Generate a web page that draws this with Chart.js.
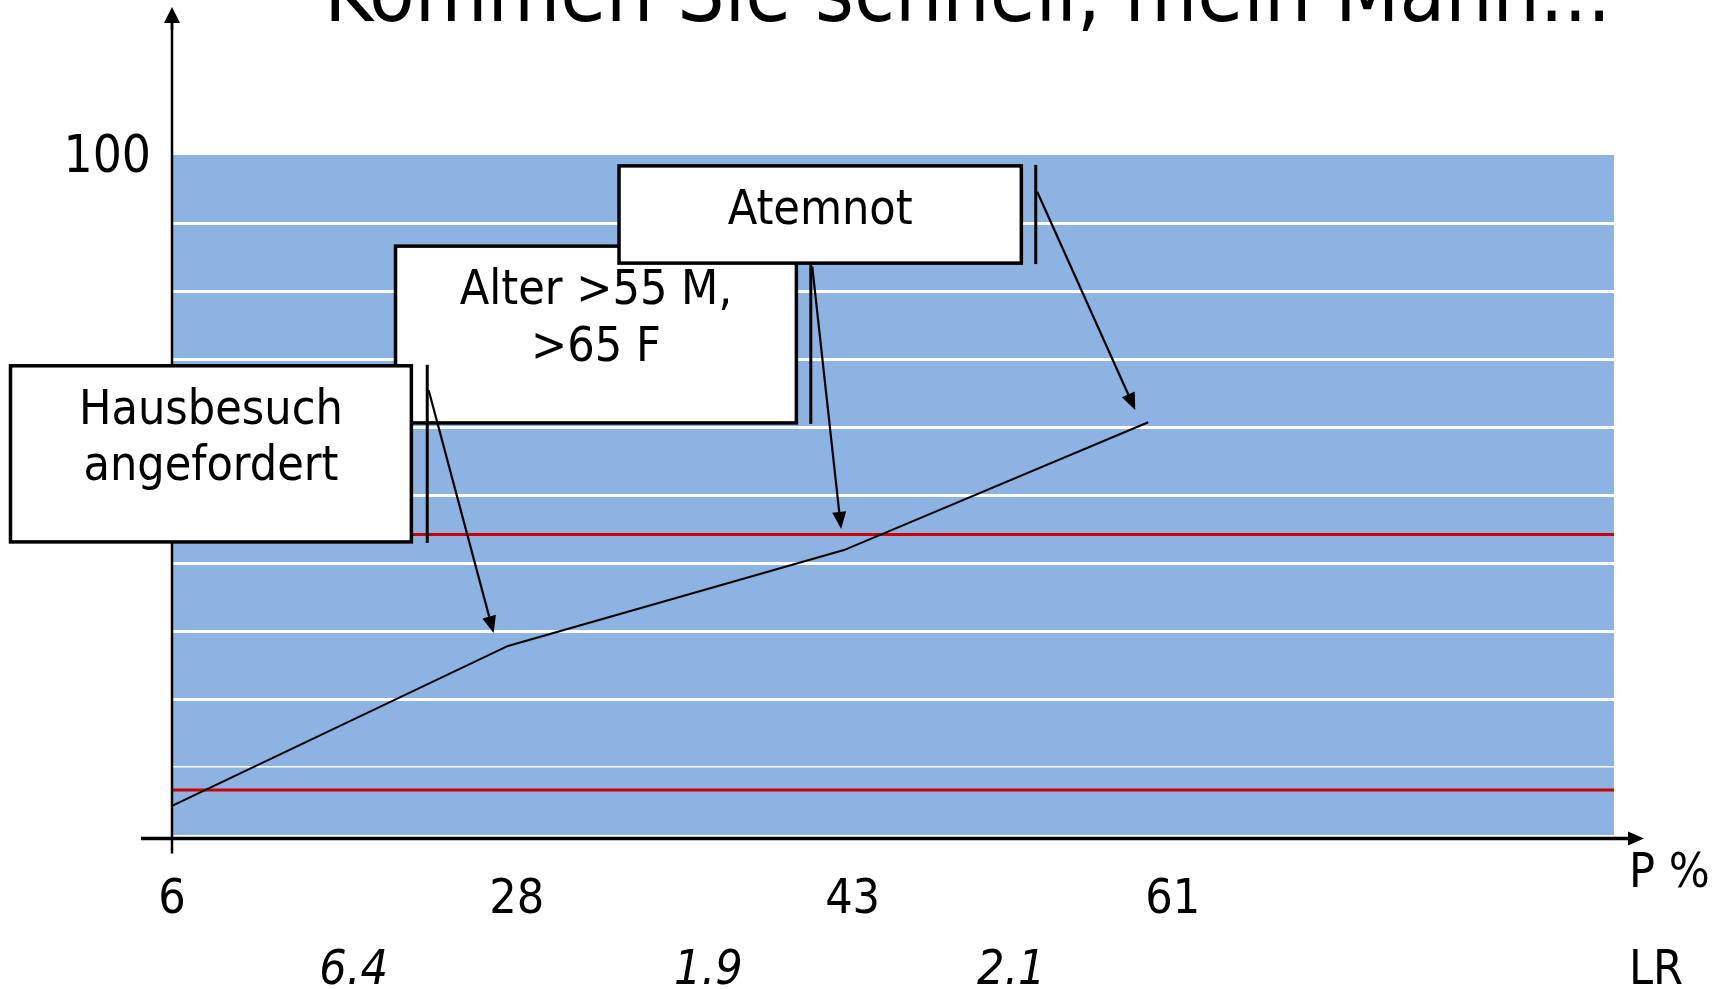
<!DOCTYPE html>
<html>
<head>
<meta charset="utf-8">
<script src="https://cdn.jsdelivr.net/npm/chart.js@4.4.1/dist/chart.umd.min.js"></script>
<style>
  html, body { margin: 0; padding: 0; background: #fff; overflow: hidden; }
  #wrap { width: 1724px; height: 989px; }
</style>
</head>
<body>
<div id="wrap"><canvas id="chart_kommenSieSchnell"></canvas></div>
<script>
// P % axis: where each category sits along the axis (0..100 of the plot width) and its label
const pTickPos = [0, 23.9, 47.2, 69.4];
const pTickLabels = ['6', '28', '43', '61'];
// likelihood ratios, written between the P % categories
const lrTickPos = [12.6, 37.2, 58.2];
const lrTickLabels = ['6.4', '1.9', '2.1'];
// the probability curve
const curveX = [0, 23.3, 46.6, 67.7];
const curveY = [4.3, 27.8, 41.9, 60.7];
// red threshold lines
const thresholdLevels = [44.2, 6.6];
// only the top of the y axis is labelled
const yTickLabels = { 100: '100' };

const titleText = 'Kommen Sie schnell, mein Mann...';

// callouts: box [x1, yTop, x2, yBottom] and arrows in axis units
const callouts = [
  { lines: ['Alter >55 M,', '>65 F'], box: [15.5, 86.6, 43.3, 60.6], bar: 44.3, from: [44.4, 83.6], to: [46.4, 45.0] },
  { lines: ['Hausbesuch', 'angefordert'], box: [-11.2, 69.0, 16.6, 43.1], bar: 17.7, from: [17.8, 65.4], to: [22.3, 29.7] },
  { lines: ['Atemnot'], box: [31.0, 98.4, 58.9, 84.1], bar: 59.9, from: [60.0, 94.6], to: [66.8, 62.5] }
];

const FONT = "'DejaVu Sans Condensed', 'DejaVu Sans', sans-serif";

function arrow(ctx, x1, y1, x2, y2, len, half) {
  const ang = Math.atan2(y2 - y1, x2 - x1);
  const bx = x2 - len * Math.cos(ang), by = y2 - len * Math.sin(ang);
  ctx.beginPath(); ctx.moveTo(x1, y1); ctx.lineTo(bx, by); ctx.stroke();
  ctx.beginPath();
  ctx.moveTo(x2, y2);
  ctx.lineTo(bx + half * Math.sin(ang), by - half * Math.cos(ang));
  ctx.lineTo(bx - half * Math.sin(ang), by + half * Math.cos(ang));
  ctx.closePath(); ctx.fill();
}

const slidePlugin = {
  id: 'slide',
  beforeDraw: (chart) => {
    const ctx = chart.ctx, a = chart.chartArea;
    ctx.save();
    ctx.fillStyle = '#fff';
    ctx.fillRect(0, 0, chart.width, chart.height);
    ctx.fillStyle = '#8DB3E2';
    ctx.fillRect(a.left, a.top, a.right - a.left, a.bottom - a.top);
    ctx.restore();
  },
  afterDatasetsDraw: (chart) => {
    const ctx = chart.ctx, a = chart.chartArea;
    const x = chart.scales.x, y = chart.scales.y;
    ctx.save();
    ctx.strokeStyle = '#000';
    ctx.fillStyle = '#000';

    // axes with arrow heads
    const axisY = a.bottom + 3.5;
    ctx.lineWidth = 2.5;
    ctx.beginPath(); ctx.moveTo(a.left, axisY + 15); ctx.lineTo(a.left, 20); ctx.stroke();
    arrow(ctx, a.left, 30, a.left, 7, 16, 8);
    ctx.lineWidth = 3.3;
    arrow(ctx, a.left - 31, axisY, a.right + 30, axisY, 16, 7);

    // axis names
    ctx.font = '48px ' + FONT;
    ctx.textAlign = 'left';
    ctx.textBaseline = 'alphabetic';
    ctx.fillText('P %', a.right + 15, 887);
    ctx.fillText('LR', a.right + 15, 984);

    // callout boxes
    callouts.forEach(c => {
      const x1 = x.getPixelForValue(c.box[0]), x2 = x.getPixelForValue(c.box[2]);
      const y1 = y.getPixelForValue(c.box[1]), y2 = y.getPixelForValue(c.box[3]);
      ctx.fillStyle = '#fff';
      ctx.fillRect(x1, y1, x2 - x1, y2 - y1);
      ctx.lineWidth = 3.5;
      ctx.strokeRect(x1, y1, x2 - x1, y2 - y1);
      ctx.fillStyle = '#000';
      ctx.textAlign = 'center';
      c.lines.forEach((t, i) => ctx.fillText(t, (x1 + x2) / 2, y1 + 58 + i * 56.5));
      const bx = x.getPixelForValue(c.bar);
      ctx.lineWidth = 3;
      ctx.beginPath(); ctx.moveTo(bx, y1 - 1); ctx.lineTo(bx, y2 + 1); ctx.stroke();
    });
    ctx.lineWidth = 2.2;
    callouts.forEach(c => {
      arrow(ctx, x.getPixelForValue(c.from[0]), y.getPixelForValue(c.from[1]),
        x.getPixelForValue(c.to[0]), y.getPixelForValue(c.to[1]), 17, 7);
    });

    // slide title, mostly cut off at the top
    ctx.font = '83px ' + FONT;
    ctx.textAlign = 'right';
    ctx.fillText(titleText, a.right - 3, 21);
    ctx.restore();
  }
};

const datasets = [{
  label: 'P',
  data: curveX.map((v, i) => ({ x: v, y: curveY[i] })),
  borderColor: '#000',
  borderWidth: 2,
  pointRadius: 0,
  tension: 0
}];
thresholdLevels.forEach(lvl => datasets.push({
  label: 'threshold ' + lvl,
  data: [{ x: 0, y: lvl }, { x: 100, y: lvl }],
  borderColor: '#CC0000',
  borderWidth: 3,
  pointRadius: 0
}));

var chart_kommenSieSchnell = new Chart(document.getElementById('chart_kommenSieSchnell'), {
  type: 'line',
  data: { datasets: datasets },
  options: {
    animation: false,
    responsive: true,
    maintainAspectRatio: false,
    layout: { padding: { top: 155, right: 110, left: 0, bottom: 0 } },
    plugins: {
      legend: { display: false },
      tooltip: { enabled: false },
      title: { display: false }
    },
    scales: {
      x: {
        type: 'linear', position: 'bottom', weight: 0,
        min: 0, max: 100,
        afterBuildTicks: s => { s.ticks = pTickPos.map(v => ({ value: v })); },
        ticks: {
          autoSkip: false, maxRotation: 0, padding: 37, color: '#000',
          font: { family: FONT, size: 48 },
          callback: (v, i) => pTickLabels[i]
        },
        grid: { display: false, drawTicks: false },
        border: { display: false },
        afterFit: s => { s.height = 100; }
      },
      x2: {
        type: 'linear', position: 'bottom', weight: 1,
        min: 0, max: 100,
        afterBuildTicks: s => { s.ticks = lrTickPos.map(v => ({ value: v })); },
        ticks: {
          autoSkip: false, maxRotation: 0, padding: 8, color: '#000',
          font: { family: FONT, size: 48, style: 'italic' },
          callback: (v, i) => lrTickLabels[i]
        },
        grid: { display: false, drawTicks: false },
        border: { display: false },
        afterFit: s => { s.height = 54; }
      },
      y: {
        type: 'linear', position: 'left',
        min: 0, max: 100,
        ticks: {
          stepSize: 10, autoSkip: false, padding: 21, labelOffset: 4, color: '#000',
          font: { family: FONT, size: 51 },
          callback: v => yTickLabels[v] || ''
        },
        grid: {
          drawTicks: false,
          color: c => (c.tick && c.tick.value > 0 && c.tick.value < 100) ? '#fff' : 'rgba(0,0,0,0)',
          lineWidth: c => (c.tick && c.tick.value === 10) ? 1.5 : 3
        },
        border: { display: false },
        afterFit: s => { s.width = 172; }
      }
    }
  },
  plugins: [slidePlugin]
});
</script>
</body>
</html>
